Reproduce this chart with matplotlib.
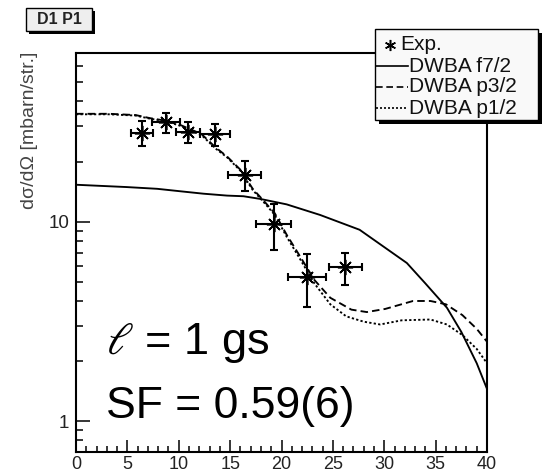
import matplotlib
matplotlib.use("Agg")
import matplotlib.pyplot as plt
from matplotlib.patches import Rectangle
from matplotlib.lines import Line2D
from matplotlib.ticker import FixedLocator, NullFormatter, FixedFormatter

plt.rcParams['font.family'] = ['Liberation Sans', 'DejaVu Sans']
plt.rcParams['mathtext.fontset'] = 'stix'

# ---------------- data ----------------
exp_angle = [6.45, 8.78, 10.9, 13.54, 16.4, 19.25, 22.5, 26.2]
exp_angle_err = [1.06, 1.37, 1.16, 1.43, 1.59, 1.69, 1.85, 1.6]
exp_xs = [27.8, 31.4, 28.1, 27.4, 17.2, 9.7, 5.3, 5.9]
exp_xs_err = [4.0, 3.6, 3.3, 3.6, 3.0, 2.5, 1.55, 1.1]

f72_angle = [0, 4.9, 7.9, 10.1, 12.4, 14.7, 16.3, 17.9, 20.5, 23.75, 27.6, 32.2, 34.0, 36.1,
             37.5, 39.0, 40]
f72_xs = [15.3, 14.9, 14.6, 14.2, 13.8, 13.5, 13.4, 13.0, 12.2, 10.8, 9.1, 6.2, 4.9, 3.7,
          2.8, 1.95, 1.45]

p32_angle = [0, 3.2, 5.8, 7.2, 8.8, 10.15, 12.2, 13.6, 14.7, 16.0, 17.2, 18.4, 19.35, 20.5, 21.8,
             23.2, 24.75, 26.8, 28.3, 30.1, 32.8, 34.5, 36.0, 37.6, 39.0, 40]
p32_xs = [34.7, 34.7, 34.2, 33.0, 32.0, 30.5, 27.5, 23.5, 21.2, 18.2, 14.6, 12.5, 11.0, 8.6, 6.7,
          5.1, 4.15, 3.62, 3.52, 3.65, 4.0, 4.0, 3.85, 3.4, 2.9, 2.5]

p12_angle = [0, 3.2, 5.8, 7.2, 8.8, 10.15, 12.2, 13.6, 14.7, 16.0, 17.2, 18.4, 19.35, 20.5, 21.8,
             23.2, 24.75, 26.3, 28.0, 29.6, 31.7, 34.5, 36.1, 37.6, 39.0, 40]
p12_xs = [34.5, 34.5, 34.0, 32.8, 31.8, 30.2, 27.2, 23.2, 21.0, 18.0, 14.4, 12.3, 10.8, 8.4, 6.5,
          4.9, 3.85, 3.35, 3.15, 3.05, 3.2, 3.23, 3.05, 2.7, 2.3, 1.95]

x_major = [0, 5, 10, 15, 20, 25, 30, 35, 40]
x_labels = ["0", "5", "10", "15", "20", "25", "30", "35", "40"]
y_major = [1, 10]
y_labels = ["1", "10"]

legend_labels = ["Exp.", "DWBA f7/2", "DWBA p3/2", "DWBA p1/2"]
title_text = "D1 P1"
ylabel_text = "dσ/dΩ [mbarn/str.]"
ann1 = r"$\ell$ = 1 gs"
ann2 = "SF = 0.59(6)"

# ---------------- figure ----------------
W, H = 550, 473
fig = plt.figure(figsize=(W / 100, H / 100), dpi=100)
fig.patch.set_facecolor("white")

def fx(px):
    return px / W

def fy(py):
    return 1 - py / H

L, R, T, B = 76, 487, 53, 452
ax = fig.add_axes([fx(L), fy(B), fx(R) - fx(L), fy(T) - fy(B)])
ax.set_yscale("log")
ax.set_xlim(0, 40)
ax.set_ylim(0.7, 70)

asterisk = (8, 2, 0)
lw = 1.35

ax.plot(f72_angle, f72_xs, color="k", lw=lw, ls="-")
ax.plot(p32_angle, p32_xs, color="k", lw=lw, ls=(0, (4, 2.2)))
ax.plot(p12_angle, p12_xs, color="k", lw=lw, ls=(0, (1.2, 1.2)))

ax.errorbar(exp_angle, exp_xs, xerr=exp_angle_err, yerr=exp_xs_err, fmt="none",
            ecolor="k", elinewidth=1.5, capsize=2.6, capthick=1.5, zorder=4)
ax.plot(exp_angle, exp_xs, ls="none", marker=asterisk, ms=11, mew=1.2,
        color="k", zorder=5)

# ticks
ax.xaxis.set_major_locator(FixedLocator(x_major))
ax.xaxis.set_major_formatter(FixedFormatter(x_labels))
ax.xaxis.set_minor_locator(FixedLocator([v for v in range(0, 41) if v % 5]))
ax.yaxis.set_major_locator(FixedLocator(y_major))
ax.yaxis.set_major_formatter(FixedFormatter(y_labels))
ax.yaxis.set_minor_locator(FixedLocator([0.7, 0.8, 0.9, 2, 3, 4, 5, 6, 7, 8, 9,
                                         20, 30, 40, 50, 60, 70]))
ax.yaxis.set_minor_formatter(NullFormatter())
ax.tick_params(axis="x", which="major", direction="in", length=8.5, width=1.1,
               labelsize=13, pad=3, colors="k", labelcolor="#222222")
ax.tick_params(axis="x", which="minor", direction="in", length=4.2, width=1.1)
ax.tick_params(axis="y", which="major", direction="in", length=10, width=1.1,
               labelsize=13.5, pad=5, labelcolor="#222222")
ax.tick_params(axis="y", which="minor", direction="in", length=5.2, width=1.1)
for sp in ax.spines.values():
    sp.set_linewidth(1.5)

# y label
fig.text(fx(30), fy(52), ylabel_text, rotation=90, ha="center", va="top",
         fontsize=14, color="#444444")

# annotations
fig.text(fx(106), fy(354), ann1, fontsize=32.5, ha="left", va="baseline", color="k")
fig.text(fx(106), fy(418), ann2, fontsize=32, ha="left", va="baseline", color="k")

# boxes with shadow
def shadow_box(x0, y0, x1, y1, face, sh=3.5):
    fig.add_artist(Rectangle((fx(x0 + sh), fy(y1 + sh)), fx(x1) - fx(x0), fy(y0) - fy(y1),
                             transform=fig.transFigure, facecolor="black",
                             edgecolor="none", zorder=10))
    fig.add_artist(Rectangle((fx(x0), fy(y1)), fx(x1) - fx(x0), fy(y0) - fy(y1),
                             transform=fig.transFigure, facecolor=face,
                             edgecolor="black", lw=1.0, zorder=11))

shadow_box(26, 8, 92, 31, "#eeeeee", sh=3)
fig.text(fx(59), fy(19.5), title_text, ha="center", va="center", fontsize=11.5,
         fontweight="bold", color="#222222", zorder=12)

# legend
shadow_box(375, 29, 538, 120, "#f9f9f9", sh=4)
rows = [45, 66, 87, 108]
fig.add_artist(Line2D([fx(390)], [fy(rows[0])], marker=(6, 2, 0), ms=8, mew=1.1,
                      color="k", transform=fig.transFigure, zorder=12))
styles = ["-", (0, (4, 2.2)), (0, (1.2, 1.2))]
for r, st in zip(rows[1:], styles):
    fig.add_artist(Line2D([fx(376), fx(408)], [fy(r), fy(r)], color="k", lw=1.2, ls=st,
                          transform=fig.transFigure, zorder=12))
fig.text(fx(400), fy(rows[0]), legend_labels[0], ha="left", va="center", fontsize=15,
         color="#111111", zorder=12)
for r, lab in zip(rows[1:], legend_labels[1:]):
    fig.text(fx(409), fy(r), lab, ha="left", va="center", fontsize=15,
             color="#111111", zorder=12)

fig.savefig("out.png", dpi=100)
